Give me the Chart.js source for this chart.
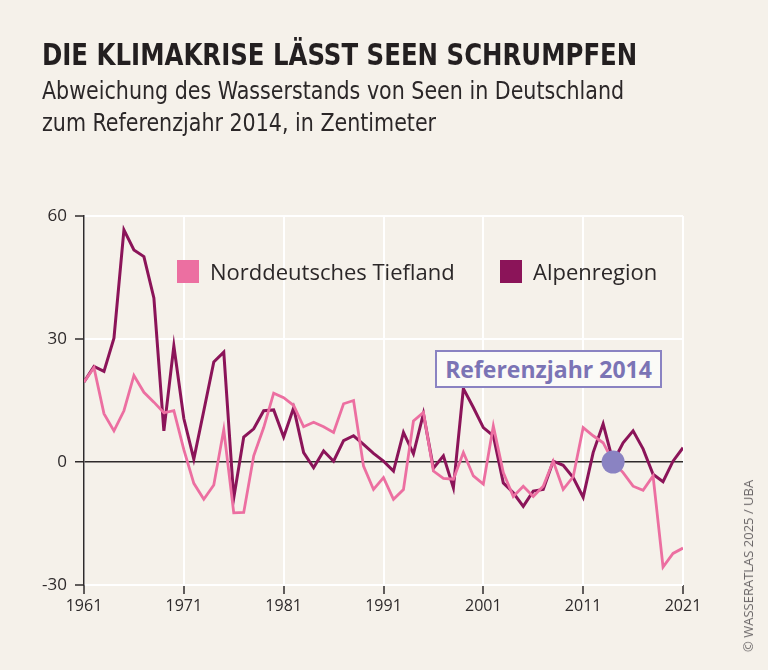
<!DOCTYPE html>
<html lang="de">
<head>
  <meta charset="UTF-8" />
  <title>Die Klimakrise lässt Seen schrumpfen</title>
  <script src="https://cdn.jsdelivr.net/npm/chart.js"></script>
  <style>
    html, body { margin: 0; padding: 0; }
    body { width: 768px; height: 670px; background: #f5f1ea; position: relative; overflow: hidden; color: #231f20; font-family: "Open Sans", sans-serif; }
    #chart { position: absolute; left: 0; top: 0; }
    .title { position: absolute; left: 42px; top: 36px; font-family: "Liberation Sans Narrow", "DejaVu Sans Condensed", sans-serif; font-weight: 700; font-size: 31px; white-space: nowrap; transform: scaleX(0.876); transform-origin: left top; }
    .sub { position: absolute; left: 42px; font-family: "Liberation Sans Narrow", "DejaVu Sans Condensed", sans-serif; font-size: 24px; white-space: nowrap; color: #2b2728; transform: scaleX(0.955); transform-origin: left top; }
    .legend { position: absolute; top: 256px; display: flex; align-items: center; font-size: 22px; white-space: nowrap; color: #2b2728; }
    .legend span.box { display: inline-block; width: 22px; height: 23px; margin-right: 11px; }
    .ref { position: absolute; left: 435px; top: 350px; width: 223px; height: 34px; border: 2px solid #8a83c2; background: #fbfaf7; color: #7b74b5; font-weight: 700; font-size: 23px; line-height: 34px; text-align: center; white-space: nowrap; }
    .credit { position: absolute; left: 748px; top: 566px; transform: translate(-50%, -50%) rotate(-90deg); font-size: 13px; color: #6b6768; white-space: nowrap; }
  </style>
</head>
<body>

  <canvas id="chart" width="768" height="670"></canvas>

  <div class="title">DIE KLIMAKRISE LÄSST SEEN SCHRUMPFEN</div>
  <div class="sub" style="top:77px">Abweichung des Wasserstands von Seen in Deutschland</div>
  <div class="sub" style="top:109px">zum Referenzjahr 2014, in Zentimeter</div>

  <div class="legend" style="left:177px"><span class="box" style="background:#ec6fa1"></span>Norddeutsches Tiefland</div>
  <div class="legend" style="left:500px"><span class="box" style="background:#8b1459"></span>Alpenregion</div>

  <div class="ref">Referenzjahr 2014</div>
  <div class="credit">© WASSERATLAS 2025 / UBA</div>

  <script>
    // years 1961..2021
    const years = [
      1961, 1962, 1963, 1964, 1965, 1966, 1967, 1968, 1969, 1970,
      1971, 1972, 1973, 1974, 1975, 1976, 1977, 1978, 1979, 1980,
      1981, 1982, 1983, 1984, 1985, 1986, 1987, 1988, 1989, 1990,
      1991, 1992, 1993, 1994, 1995, 1996, 1997, 1998, 1999, 2000,
      2001, 2002, 2003, 2004, 2005, 2006, 2007, 2008, 2009, 2010,
      2011, 2012, 2013, 2014, 2015, 2016, 2017, 2018, 2019, 2020,
      2021
    ];

    // Norddeutsches Tiefland (cm)
    const tiefland = [
      19.5, 23, 11.8, 7.6, 12.5, 21.1, 17, 14.6, 12, 12.5,
      3, -5.2, -9.1, -5.6, 7.9, -12.4, -12.3, 1.5, 8.4, 16.8,
      15.7, 13.8, 8.6, 9.7, 8.6, 7.2, 14.2, 15, -1, -6.7,
      -3.8, -9.1, -6.7, 10, 12.1, -2.2, -4, -4.2, 2.3, -3.4,
      -5.4, 8.8, -2.6, -8.4, -5.9, -8.4, -5.9, 0.2, -6.7, -3.6,
      8.4, 6.4, 4.7, 0, -2.6, -5.9, -6.9, -3.4, -25.6, -22.3,
      -21
    ];

    // Alpenregion (cm)
    const alpen = [
      19.5, 23.3, 22.1, 30.2, 56.6, 51.7, 50.1, 40, 7.6, 28.3,
      10.6, 0.7, 12.5, 24.4, 26.8, -8.8, 6.1, 8.1, 12.5, 12.7,
      6.1, 13.2, 2.3, -1.4, 2.7, 0.2, 5.2, 6.4, 4.3, 2.1,
      0.2, -2.2, 7.2, 2, 11.8, -1.5, 1.5, -6.3, 17.9, 13.3,
      8.4, 6.4, -5.1, -7.5, -10.8, -7.1, -6.7, 0.2, -0.8, -3.8,
      -8.6, 2.3, 9.3, 0, 4.7, 7.6, 3.2, -3, -4.8, 0.2,
      3.5
    ];

    const refYear = 2014;
    const xTicks = [1961, 1971, 1981, 1991, 2001, 2011, 2021];
    const yTicks = [-30, 0, 30, 60];

    const toPoints = vals => vals.map((v, i) => ({ x: years[i], y: v }));

    new Chart(document.getElementById('chart'), {
      type: 'line',
      data: {
        datasets: [
          {
            type: 'scatter',
            data: [{ x: refYear, y: 0 }],
            pointRadius: 11.5,
            pointBackgroundColor: '#8a83c2',
            pointBorderWidth: 0,
            order: -1
          },
          {
            label: 'Norddeutsches Tiefland',
            data: toPoints(tiefland),
            borderColor: '#ec6fa1',
            borderWidth: 2.8,
            pointRadius: 0,
            tension: 0
          },
          {
            label: 'Alpenregion',
            data: toPoints(alpen),
            borderColor: '#8b1459',
            borderWidth: 3,
            pointRadius: 0,
            tension: 0
          }
        ]
      },
      options: {
        responsive: false,
        animation: false,
        layout: { padding: { top: 216, right: 85, bottom: 45, left: 0 } },
        plugins: { legend: { display: false }, tooltip: { enabled: false } },
        scales: {
          x: {
            type: 'linear',
            min: 1961,
            max: 2021,
            afterBuildTicks: s => { s.ticks = xTicks.map(v => ({ value: v })); },
            afterFit: s => { s.height = 40; },
            border: { display: false },
            grid: { color: '#ffffff', lineWidth: 2, tickColor: '#2e2a2b', tickLength: 9, tickWidth: 1.5 },
            ticks: { color: '#2e2a2b', font: { family: 'Open Sans', size: 16 }, padding: 3, maxRotation: 0, callback: v => String(v) }
          },
          y: {
            min: -30,
            max: 60,
            afterBuildTicks: s => { s.ticks = yTicks.map(v => ({ value: v })); },
            afterFit: s => { s.width = 84; },
            border: { display: true, color: '#2e2a2b', width: 1.5 },
            grid: {
              color: c => c.tick && c.tick.value === 0 ? '#2e2a2b' : '#ffffff',
              lineWidth: c => c.tick && c.tick.value === 0 ? 1.5 : 2,
              tickColor: '#2e2a2b',
              tickLength: 9,
              tickWidth: 1.5
            },
            ticks: { color: '#2e2a2b', font: { family: 'Open Sans', size: 17 }, padding: 8, callback: v => String(v) }
          }
        }
      }
    });
  </script>
</body>
</html>
